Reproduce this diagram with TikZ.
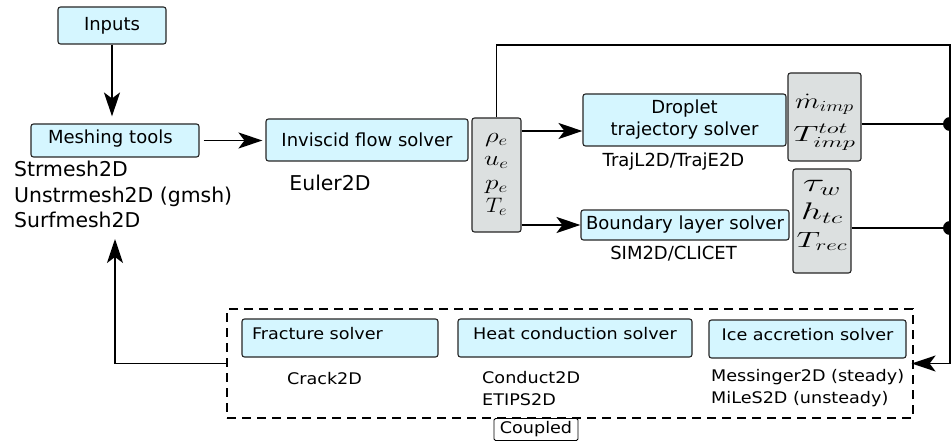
\RequirePackage{fix-cm}
\documentclass[tikz,border=0pt]{standalone}
\usepackage{fontspec}
\setmainfont{DejaVu Sans}
\newfontfamily\narrowfont[FakeStretch=1.1]{DejaVu Sans}
\usetikzlibrary{positioning,calc,arrows.meta}

\definecolor{solvercyan}{RGB}{213,246,255}
\definecolor{fieldgrey}{RGB}{220,224,224}

\newcommand{\lblsize}{\fontsize{18}{22}\selectfont}
\newcommand{\toolsize}{\fontsize{20.4}{25.5}\selectfont}
\newcommand{\lowsize}{\narrowfont\fontsize{16}{22}\selectfont}
\newcommand{\wide}[2]{\scalebox{#1}[1]{$#2$}}
\newcommand{\fieldstack}[2][0pt]{\raisebox{#1}[0pt][0pt]{\begin{tabular}{@{}c@{}}#2\end{tabular}}}

\begin{document}
\begin{tikzpicture}[x=1pt,y=-1pt,
        solver/.style={draw=black!85, line width=1.1pt, fill=solvercyan, rounded corners=2.5pt, inner sep=0pt, font=\lblsize},
        field/.style={draw=black!85, line width=1.1pt, fill=fieldgrey, rounded corners=2.5pt, inner sep=0pt},
        tool/.style={inner sep=0pt, font=\toolsize, align=left},
        flow/.style={line width=1.6pt, -{Stealth[length=24pt,width=16pt,inset=6pt]}},
        wire/.style={line width=1.6pt}
    ]
    \useasboundingbox (0,0) rectangle (951,441);

    % Define nodes: pre-processing
    \node[solver, minimum width=108, minimum height=37] (inputs) at (112,25.5) {Inputs};
    \node[solver, minimum width=168, minimum height=33, text width=148, align=left, text height=13, text depth=7] (mesh) at (115,140.5) {\hspace*{7pt}Meshing tools};
    \node[tool, anchor=north west] (meshtools) at (14,161) {Strmesh2D\\Unstrmesh2D (gmsh)\\Surfmesh2D};

    % Define nodes: flow solvers
    \node[solver, minimum width=202, minimum height=42] (inviscid) at (367,140) {Inviscid flow solver};
    \node[tool, anchor=base] (euler) at (330,190.3) {Euler2D};
    \node[field, minimum width=49, minimum height=114, font=\fontsize{21}{23.5}\selectfont] (outer) at (496.5,175)
        {\fieldstack[-3pt]{\wide{1.28}{\rho_e}\\\wide{1.3}{u_e}\\\wide{1.3}{p_e}\\\wide{1.1}{T_e}}};

    \node[solver, minimum width=203, minimum height=52, align=center] (droplet) at (684.5,120) {Droplet\\trajectory solver};
    \node[tool, font=\lblsize, anchor=base] (traj) at (673.5,166.5) {TrajL2D/TrajE2D};
    \node[solver, minimum width=208, minimum height=30] (layer) at (685,225) {Boundary layer solver};
    \node[tool, font=\lblsize, anchor=base] (sim) at (673.5,259.5) {SIM2D/CLICET};

    \node[field, minimum width=73, minimum height=88, font=\fontsize{22}{33}\selectfont] (impact) at (824.5,117)
        {\fieldstack[-7pt]{\wide{1.3}{\dot m_{imp}}\\\wide{1.6}{T_{imp}^{tot}}}};
    \node[field, minimum width=58, minimum height=104, font=\fontsize{22}{28}\selectfont] (wall) at (822,221)
        {\fieldstack[1.5pt]{{\fontsize{26}{28}\selectfont\wide{1.55}{\tau_w}}\\{\fontsize{24}{28}\selectfont\wide{1.55}{h_{tc}}}\\\wide{1.5}{T_{rec}}}};

    % Define nodes: coupled solvers
    \node[draw, line width=1.2pt, dash pattern=on 9pt off 6pt, minimum width=686, minimum height=109, inner sep=0pt] (coupled) at (570,363.5) {};
    \node[draw, line width=0.8pt, rounded corners=1.5pt, fill=white, font=\lowsize, minimum width=84, minimum height=22, inner sep=0pt] (couplab) at (536,429.5) {Coupled};

    \node[solver, font=\lowsize, minimum width=196, minimum height=38, text width=176, align=left, text height=12, text depth=10] (fracture) at (340,338) {Fracture solver};
    \node[solver, font=\lowsize, minimum width=234, minimum height=38, text height=12, text depth=10] (heat) at (575,338) {Heat conduction solver};
    \node[solver, font=\lowsize, minimum width=197, minimum height=38, text height=12, text depth=10] (ice) at (807.5,339) {Ice accretion solver};
    \node[tool, font=\lowsize, anchor=base] (crack) at (324.5,384) {Crack2D};
    \node[tool, font=\lowsize, anchor=north west] (conduct) at (482,371) {Conduct2D\\ETIPS2D};
    \node[tool, font=\lowsize, anchor=north west] (messinger) at (711,369) {Messinger2D (steady)\\MiLeS2D (unsteady)};

    % Corner points of the loop
    \coordinate (topright) at (950,45);
    \coordinate (dotA) at (950,124);
    \coordinate (dotB) at (950,228);
    \coordinate (remesh) at (115,239);
    \coordinate (dropin) at ([yshift=-11pt]droplet.west);

    % Connect the solvers
    \draw[flow, shorten >=7pt] (inputs.south) -- (inputs.south |- mesh.north);
    \draw[flow, shorten <=4pt, shorten >=3pt] (mesh.east) -- (mesh.east -| inviscid.west);
    \draw[flow] (outer.east |- dropin) -- (dropin);
    \draw[flow] (outer.east |- layer.west) -- (layer.west);
    \draw[wire] (impact.east |- dotA) -- (dotA);
    \draw[wire] (wall.east |- dotB) -- (dotB);
    \fill (dotA) circle (7);
    \fill (dotB) circle (7);
    \draw[flow, shorten >=-2pt] (outer.north) |- (topright) |- (coupled.east);
    \draw[flow] (coupled.west) -| (remesh);

\end{tikzpicture}
\end{document}
